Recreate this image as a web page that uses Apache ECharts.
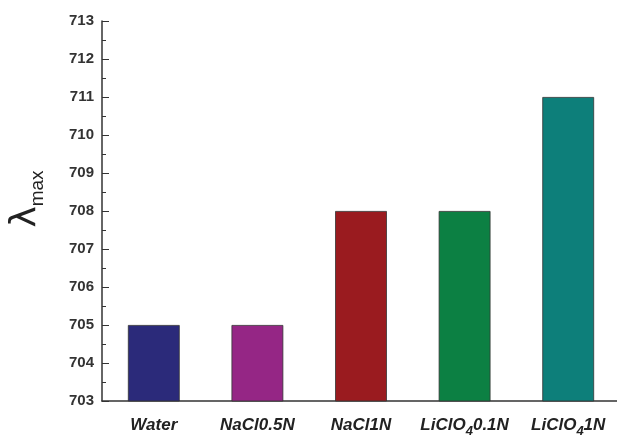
<!DOCTYPE html>
<html>
<head>
<meta charset="utf-8">
<script src="https://cdn.jsdelivr.net/npm/echarts@6/dist/echarts.min.js"></script>
<style>
  html, body { margin: 0; padding: 0; background: #fff; }
  #chart { width: 617px; height: 436px; }
</style>
</head>
<body>
<div id="chart"></div>
<script>
// Absorption maximum (nm) of the dye in each medium
const categories = ['Water', 'NaCl0.5N', 'NaCl1N', 'LiClO40.1N', 'LiClO41N'];
const lambdaMax = [705, 705, 708, 708, 711];
const barColors = ['#2b2a7a', '#952685', '#9a1b1f', '#0c8043', '#0d7f7a'];
const yTicks = { min: 703, max: 713, interval: 1 };

const chart = echarts.init(document.getElementById('chart'));

const fontFamily = 'Liberation Sans, Arial, sans-serif';

// Write the perchlorate formula with a subscript 4
function formatCategory(name) {
  const m = /^LiClO4(.*)$/.exec(name);
  if (m) return '{a|LiClO}{s|4}{a|' + m[1] + '}';
  return '{a|' + name + '}';
}

chart.setOption({
  backgroundColor: '#ffffff',
  animation: false,
  grid: { left: 102, top: 21, width: 518, height: 380, outerBoundsMode: 'none', containLabel: false },
  xAxis: {
    type: 'category',
    data: categories,
    axisLine: { lineStyle: { color: '#333', width: 1.5 } },
    axisTick: { inside: true, length: 3, lineStyle: { color: '#333' } },
    axisLabel: {
      interval: 0,
      hideOverlap: false,
      margin: 19,
      formatter: formatCategory,
      rich: {
        a: {
          fontFamily: fontFamily, fontSize: 17, fontWeight: 'bold', fontStyle: 'italic',
          color: '#222', verticalAlign: 'bottom', lineHeight: 18, padding: [0, 0, 4, 0]
        },
        s: {
          fontFamily: fontFamily, fontSize: 13, fontWeight: 'bold', fontStyle: 'italic',
          color: '#222', verticalAlign: 'bottom', lineHeight: 14
        }
      }
    },
    splitLine: { show: false }
  },
  yAxis: {
    type: 'value',
    min: yTicks.min,
    max: yTicks.max,
    interval: yTicks.interval,
    name: '{l|λ}{m|max}',
    nameLocation: 'middle',
    nameGap: 55,
    nameRotate: 90,
    nameTextStyle: {
      padding: [0, 0, 0, 24],
      rich: {
        l: { fontFamily: 'DejaVu Sans, sans-serif', fontSize: 36, color: '#222', lineHeight: 34, verticalAlign: 'bottom', padding: [0, 0, 3, 0] },
        m: { fontFamily: fontFamily, fontSize: 19, color: '#222', lineHeight: 20, verticalAlign: 'bottom' }
      }
    },
    axisLine: { show: true, lineStyle: { color: '#333', width: 1.5 } },
    axisTick: { show: true, inside: true, length: 7, lineStyle: { color: '#333' } },
    minorTick: { show: true, splitNumber: 2, length: 4, lineStyle: { color: '#333' } },
    axisLabel: {
      margin: 8,
      fontFamily: fontFamily, fontSize: 15, fontWeight: 'bold', color: '#333'
    },
    splitLine: { show: false }
  },
  series: [{
    type: 'bar',
    barWidth: '50%',
    data: lambdaMax.map((v, i) => ({
      value: v,
      itemStyle: { color: barColors[i], borderColor: '#333', borderWidth: 0.8 }
    }))
  }]
});
</script>
</body>
</html>
